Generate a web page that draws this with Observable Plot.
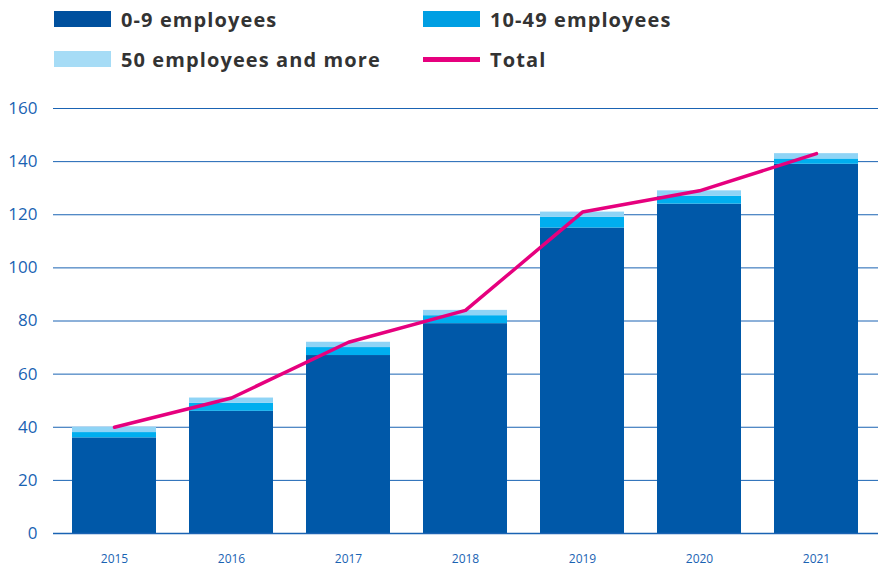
<!DOCTYPE html>
<html>
<head>
<meta charset="utf-8">
<script src="https://cdn.jsdelivr.net/npm/d3@7"></script>
<script src="https://cdn.jsdelivr.net/npm/@observablehq/plot@0.6"></script>
<style>
  html, body { margin: 0; padding: 0; background: #fff; }
  #wrap { position: relative; width: 879px; height: 566px; overflow: hidden; }
  #legend { position: relative; height: 80px; font-family: "Open Sans", sans-serif; font-weight: 700; font-size: 20px; letter-spacing: 1.1px; color: #333; }
  .item { position: absolute; display: flex; align-items: center; height: 22px; }
  .sw { width: 57px; height: 16px; margin-right: 10px; }
  .ln { width: 57px; height: 5px; margin-right: 10px; }
  #chart svg { display: block; }
</style>
</head>
<body>
<div id="wrap">
  <div id="legend"></div>
  <div id="chart"></div>
</div>
<script>
const years = ["2015", "2016", "2017", "2018", "2019", "2020", "2021"];
const series = ["0-9 employees", "10-49 employees", "50 employees and more"];
const small = [36, 46, 67, 79, 115, 124, 139];
const medium = [2, 3, 3, 3, 4, 3, 2];
const large = [2, 2, 2, 2, 2, 2, 2];
const total = [40, 51, 72, 84, 121, 129, 143];
const yTicks = [0, 20, 40, 60, 80, 100, 120, 140, 160];
const colors = ["#0058a8", "#00aeef", "#8fd4f6"];
const legendColors = ["#00509e", "#009fe3", "#a6dcf6"];
const lineColor = "#e6007e";
const blue = "#1a63b3";

// Legend (HTML)
const legend = document.getElementById("legend");
const legendItems = [
  {label: series[0], color: legendColors[0], x: 54, y: 8, type: "sw"},
  {label: series[1], color: legendColors[1], x: 423, y: 8, type: "sw"},
  {label: series[2], color: legendColors[2], x: 54, y: 48, type: "sw"},
  {label: "Total", color: lineColor, x: 423, y: 48, type: "ln"}
];
for (const it of legendItems) {
  const d = document.createElement("div");
  d.className = "item";
  d.style.left = it.x + "px";
  d.style.top = it.y + "px";
  const s = document.createElement("div");
  s.className = it.type;
  s.style.background = it.color;
  const t = document.createElement("span");
  t.textContent = it.label;
  d.appendChild(s); d.appendChild(t);
  legend.appendChild(d);
}

const rows = [];
years.forEach((y, i) => {
  rows.push({year: y, series: series[0], value: small[i]});
  rows.push({year: y, series: series[1], value: medium[i]});
  rows.push({year: y, series: series[2], value: large[i]});
});
const totals = years.map((y, i) => ({year: y, total: total[i]}));

const chart = Plot.plot({
  width: 879,
  height: 486,
  marginLeft: 53,
  marginRight: 1,
  marginTop: 28,
  marginBottom: 33,
  style: {fontFamily: "Open Sans, sans-serif", background: "#fff"},
  x: {domain: years, paddingInner: 0.28, paddingOuter: 0.14, label: null},
  y: {domain: [0, 160], ticks: yTicks, label: null},
  color: {domain: series, range: colors},
  marks: [
    Plot.gridY(yTicks, {stroke: blue, strokeOpacity: 1, strokeWidth: 1}),
    Plot.barY(rows, {x: "year", y: "value", fill: "series"}),
    Plot.lineY(totals, {x: "year", y: "total", stroke: lineColor, strokeWidth: 3.5}),
    Plot.ruleY([0], {stroke: blue, strokeWidth: 1.5}),
    Plot.axisY(yTicks, {tickSize: 0, tickPadding: 16, fontSize: 17, fill: blue, color: blue, label: null}),
    Plot.axisX({tickSize: 0, tickPadding: 21, fontSize: 12, fill: blue, color: blue, label: null, fontStretch: "condensed"})
  ]
});
document.getElementById("chart").appendChild(chart);
</script>
</body>
</html>
